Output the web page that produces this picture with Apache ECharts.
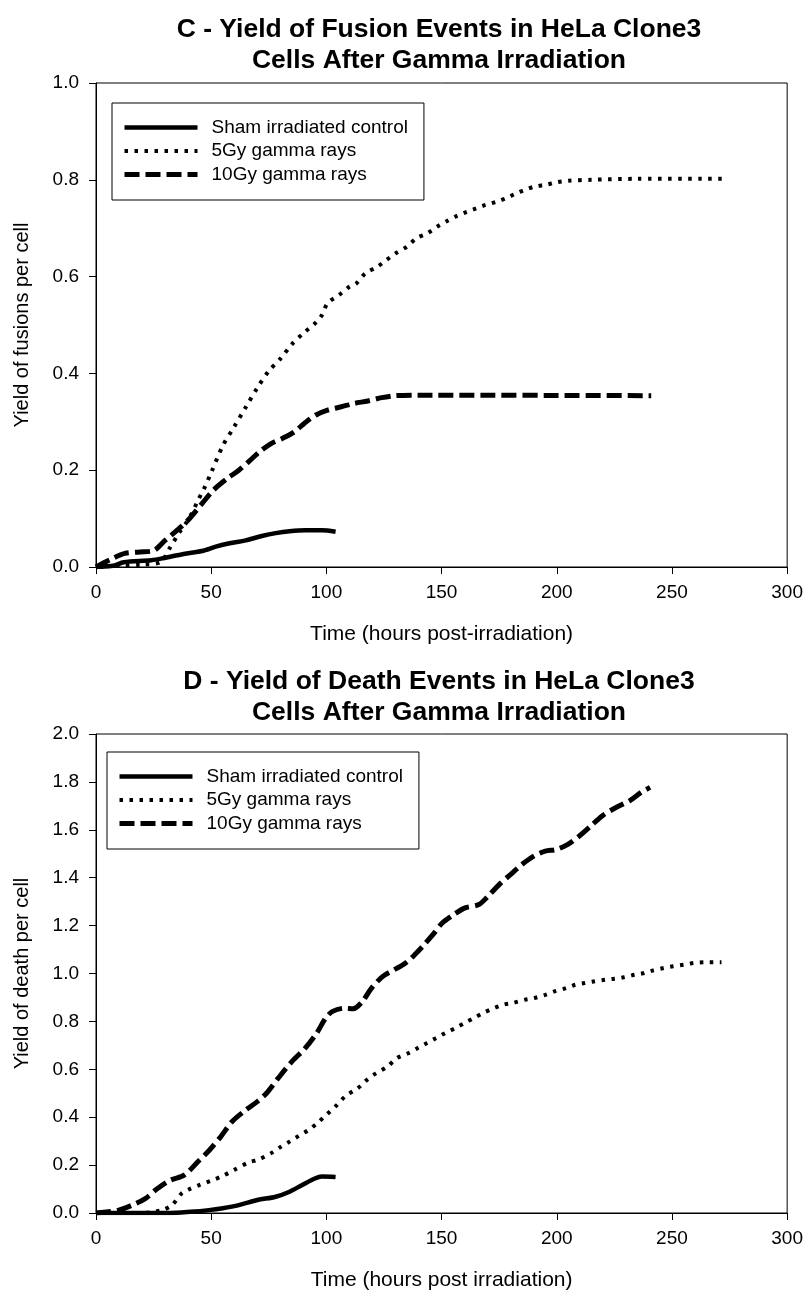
<!DOCTYPE html>
<html>
<head>
<meta charset="utf-8">
<script src="https://cdn.jsdelivr.net/npm/echarts@6/dist/echarts.min.js"></script>
<style>
  html, body { margin: 0; padding: 0; background: #fff; }
  #chart { width: 806px; height: 1295px; }
</style>
</head>
<body>
<div id="chart"></div>
<script>
// Panel C: yield of fusion events per cell, [hours, yield]
const fusionSham = [[0,0],[8,0.003],[12,0.01],[24,0.014],[29,0.018],[38,0.027],[46,0.033],[52,0.042],[58,0.049],[65,0.055],[72,0.064],[78,0.07],[84,0.074],[91,0.076],[98,0.076],[104,0.073]];
const fusion5Gy = [[0,0],[10,0.003],[20,0.005],[28,0.01],[32,0.039],[36,0.07],[39,0.09],[41.5,0.11],[44,0.135],[47,0.163],[50,0.195],[55,0.25],[60,0.29],[65,0.33],[70,0.37],[75,0.405],[80,0.43],[85,0.46],[90,0.483],[95,0.503],[98,0.52],[100.5,0.545],[105.5,0.562],[110,0.579],[113,0.586],[117,0.607],[122,0.62],[126,0.634],[130,0.648],[135,0.662],[139,0.679],[144,0.69],[148,0.703],[152,0.714],[156,0.724],[161,0.734],[165,0.741],[169,0.748],[174,0.755],[178,0.762],[182,0.771],[186,0.779],[190.5,0.786],[195.5,0.79],[200,0.795],[205,0.798],[215,0.8],[235,0.802],[272,0.802]];
const fusion10Gy = [[0,0],[6,0.015],[12.5,0.028],[19,0.031],[25,0.034],[30,0.055],[35,0.075],[40,0.097],[46,0.131],[51,0.159],[57,0.183],[62,0.2],[67,0.221],[71,0.238],[76,0.255],[81,0.266],[86,0.279],[90.5,0.297],[95.5,0.314],[100.5,0.324],[106.5,0.331],[112,0.338],[118,0.343],[124,0.35],[130,0.354],[140,0.355],[241,0.354]];

// Panel D: yield of death events per cell, [hours, yield]
const deathSham = [[0,0],[10,0],[20,0],[25,0],[32,0],[41,0.005],[49,0.012],[55,0.02],[62,0.033],[70,0.054],[78,0.068],[84,0.089],[89.5,0.117],[95,0.144],[98,0.152],[104,0.15]];
const death5Gy = [[0,0],[10,0],[20,0],[28.7,0.012],[33,0.033],[37,0.08],[40,0.097],[45,0.117],[50,0.135],[55,0.155],[60,0.18],[66,0.21],[71,0.225],[76,0.25],[80,0.275],[84,0.298],[88,0.322],[92,0.345],[96,0.375],[100,0.41],[104.5,0.45],[108.5,0.49],[113.5,0.52],[117.5,0.555],[121.5,0.583],[126.5,0.611],[130.5,0.646],[135.5,0.667],[139.5,0.688],[143.5,0.709],[147.5,0.73],[151.5,0.751],[156,0.772],[160,0.793],[164,0.814],[168,0.835],[173,0.856],[177,0.87],[181,0.877],[186,0.89],[190,0.897],[195,0.911],[199,0.925],[204,0.939],[208,0.953],[212,0.96],[216,0.967],[221,0.974],[225,0.978],[229,0.984],[234,0.995],[238,1.002],[241.5,1.012],[246.5,1.023],[250.5,1.03],[255.5,1.037],[259.5,1.044],[264.5,1.047],[271.5,1.047]];
const death10Gy = [[0,0],[9.5,0.011],[15.5,0.032],[21.4,0.06],[26.4,0.1],[32.3,0.137],[38.3,0.158],[44.2,0.214],[49.2,0.262],[54.1,0.318],[59,0.381],[65,0.43],[70,0.465],[74,0.5],[79,0.562],[85,0.632],[90.8,0.688],[95.8,0.751],[99.7,0.814],[102.7,0.842],[107.7,0.855],[111.6,0.853],[115.6,0.883],[119.6,0.939],[124.5,0.988],[129.5,1.016],[134.4,1.044],[138.4,1.079],[142.4,1.12],[146.3,1.163],[150.3,1.211],[155.3,1.246],[160.2,1.274],[166.2,1.288],[170.2,1.323],[175.1,1.372],[180,1.414],[185,1.456],[190,1.49],[195,1.511],[199.9,1.518],[204.8,1.539],[209.8,1.574],[214.8,1.616],[219.7,1.658],[225.7,1.693],[231.6,1.721],[236.6,1.756],[240.5,1.777]];

const seriesNames = ['Sham irradiated control', '5Gy gamma rays', '10Gy gamma rays'];
const panelTitles = ['C - Yield of Fusion Events in HeLa Clone3\nCells After Gamma Irradiation',
                     'D - Yield of Death Events in HeLa Clone3\nCells After Gamma Irradiation'];
const xAxisNames = ['Time (hours post-irradiation)', 'Time (hours post irradiation)'];
const yAxisNames = ['Yield of fusions per cell', 'Yield of death per cell'];
const yMax = [1.0, 2.0];
const yStep = [0.2, 0.2];
const xMax = 300, xStep = 50;

const FONT = "'Liberation Sans', Arial, sans-serif";

const lineStyles = [
  { color: '#000', width: 4.5, type: 'solid' },
  { color: '#000', width: 4, type: [3.5, 6.5] },
  { color: '#000', width: 5, type: [15, 6] }
];

const panels = [
  { top: 83, height: 484, titleTop: 9, legendLeft: 112, legendTop: 103 },
  { top: 734, height: 479, titleTop: 661, legendLeft: 107, legendTop: 752 }
];

const chart = echarts.init(document.getElementById('chart'), null, { renderer: 'canvas' });

const option = {
  backgroundColor: '#fff',
  animation: false,
  title: panels.map((p, i) => ({
    text: panelTitles[i],
    left: 434,
    top: p.titleTop,
    textAlign: 'center',
    textStyle: { fontFamily: FONT, fontWeight: 'bold', fontSize: 26.5, lineHeight: 31, color: '#000' }
  })),
  legend: panels.map((p, i) => ({
    orient: 'vertical',
    left: p.legendLeft,
    top: p.legendTop,
    data: seriesNames,
    itemWidth: 73,
    itemHeight: 12,
    itemGap: 4.5,
    padding: [15, 16, 16, 10],
    borderColor: '#000',
    borderWidth: 1,
    selectedMode: false,
    itemStyle: { opacity: 0 },
    lineStyle: { width: 'inherit', type: 'inherit', color: 'inherit' },
    textStyle: { fontFamily: FONT, fontSize: 19, color: '#000', padding: [0, 0, 0, 9] }
  })),
  grid: panels.map(p => ({
    left: 96, width: 697, top: p.top, height: p.height,
    show: true, borderColor: '#000', borderWidth: 1, backgroundColor: 'transparent'
  })),
  xAxis: panels.map((p, i) => ({
    type: 'value', gridIndex: i, min: 0, max: xMax, interval: xStep,
    name: xAxisNames[i], nameLocation: 'middle', nameGap: 57,
    nameTextStyle: { fontFamily: FONT, fontSize: 21, color: '#000' },
    axisLine: { show: true, lineStyle: { color: '#000', width: 1 } },
    axisTick: { show: true, inside: false, length: 7, lineStyle: { color: '#000' } },
    axisLabel: { fontFamily: FONT, fontSize: 19, color: '#000', margin: 16 },
    splitLine: { show: false }
  })),
  yAxis: panels.map((p, i) => ({
    type: 'value', gridIndex: i, min: 0, max: yMax[i], interval: yStep[i],
    name: yAxisNames[i], nameLocation: 'middle', nameGap: 64, nameRotate: 90,
    nameTextStyle: { fontFamily: FONT, fontSize: 20, color: '#000' },
    axisLine: { show: true, lineStyle: { color: '#000', width: 1 } },
    axisTick: { show: true, inside: false, length: 7, lineStyle: { color: '#000' } },
    axisLabel: { fontFamily: FONT, fontSize: 19, color: '#000', margin: 17,
                 formatter: v => v.toFixed(1) },
    splitLine: { show: false }
  })),
  series: []
};

const panelData = [[fusionSham, fusion5Gy, fusion10Gy], [deathSham, death5Gy, death10Gy]];
panelData.forEach((set, gi) => {
  set.forEach((data, si) => {
    option.series.push({
      name: seriesNames[si],
      type: 'line',
      xAxisIndex: gi,
      yAxisIndex: gi,
      data: data,
      smooth: 0.3,
      symbol: 'none',
      lineStyle: lineStyles[si],
      itemStyle: { color: '#000' }
    });
  });
});

chart.setOption(option);
</script>
</body>
</html>
